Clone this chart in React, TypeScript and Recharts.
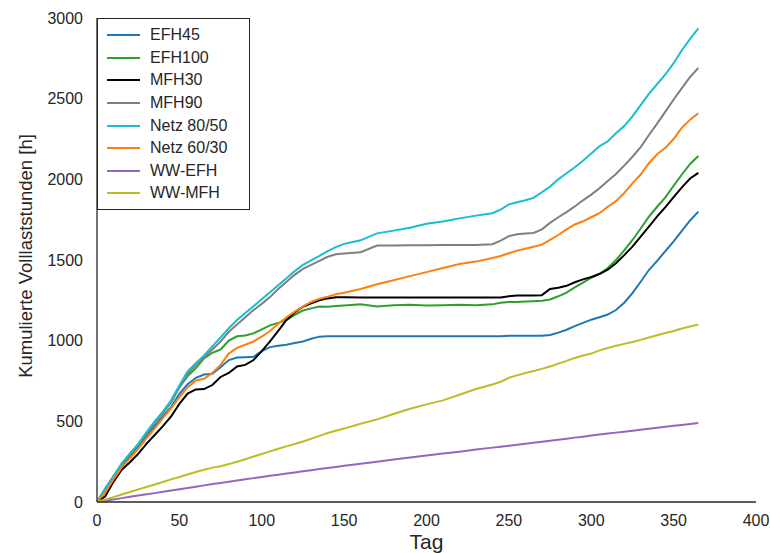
import React from 'react';
import { LineChart, Line, XAxis, YAxis, Label } from 'recharts';

// Tag im Jahr (Stützstellen der Kurven)
const days = [
  0, 5, 10, 15, 20, 25, 30, 35, 40, 45,
  50, 55, 60, 65, 70, 75, 80, 85, 90, 95,
  100, 105, 110, 115, 120, 125, 130, 135, 140, 145,
  150, 160, 170, 180, 190, 200, 210, 220, 230, 240,
  245, 250, 255, 260, 265, 270, 275, 280, 285, 290,
  295, 300, 305, 310, 315, 320, 325, 330, 335, 340,
  345, 350, 355, 360, 365,
];

const efh45 = [
  0, 70, 150, 225, 285, 340, 410, 470, 530, 590,
  670, 730, 770, 790, 795, 835, 880, 895, 897, 900,
  935, 960, 968, 975, 985, 995, 1012, 1025, 1027, 1027,
  1027, 1028, 1027, 1028, 1027, 1027, 1028, 1027, 1027, 1028,
  1028, 1030, 1030, 1030, 1030, 1030, 1035, 1050, 1068, 1090,
  1110, 1130, 1145, 1162, 1190, 1235, 1295, 1365, 1438, 1495,
  1555, 1615, 1680, 1745, 1800,
];

const efh100 = [
  0, 80, 160, 235, 300, 355, 425, 490, 555, 620,
  712, 780, 830, 890, 925, 945, 1000, 1027, 1032, 1045,
  1070, 1095, 1110, 1128, 1160, 1187, 1200, 1212, 1210, 1215,
  1218, 1225, 1212, 1220, 1222, 1218, 1220, 1222, 1220, 1225,
  1235, 1240, 1240, 1242, 1245, 1248, 1255, 1275, 1298, 1330,
  1360, 1390, 1415, 1450, 1500, 1560, 1624, 1695, 1769, 1830,
  1888, 1960, 2030, 2095, 2145,
];

const mfh30 = [
  0, 35, 125, 200, 246, 298, 360, 415, 470, 530,
  608, 672, 698, 700, 725, 775, 800, 840, 850, 880,
  935, 995, 1060, 1128, 1175, 1210, 1232, 1250, 1262, 1269,
  1269, 1268, 1268, 1268, 1268, 1268, 1268, 1268, 1268, 1268,
  1268, 1275, 1280, 1280, 1280, 1282, 1320, 1328, 1340, 1362,
  1380, 1395, 1413, 1440, 1480, 1530, 1583, 1645, 1707, 1770,
  1828, 1890, 1950, 2005, 2040,
];

const mfh90 = [
  0, 80, 155, 235, 295, 355, 425, 490, 550, 620,
  710, 795, 850, 895, 945, 995, 1055, 1100, 1145, 1190,
  1228, 1270, 1320, 1365, 1408, 1445, 1470, 1495, 1520, 1535,
  1540, 1548, 1590, 1590, 1592, 1592, 1593, 1593, 1593, 1598,
  1620, 1648, 1660, 1665, 1668, 1690, 1730, 1765, 1797, 1832,
  1870, 1905, 1945, 1990, 2033, 2085, 2140, 2200, 2275, 2345,
  2420, 2495, 2565, 2635, 2690,
];

const netz8050 = [
  0, 85, 160, 240, 300, 360, 432, 500, 560, 630,
  722, 810, 860, 908, 965, 1020, 1077, 1128, 1171, 1214,
  1257, 1300, 1344, 1387, 1431, 1470, 1497, 1525, 1555, 1580,
  1600, 1622, 1665, 1682, 1700, 1725, 1738, 1758, 1775, 1790,
  1812, 1845, 1858, 1870, 1885, 1920, 1955, 2000, 2038, 2075,
  2115, 2160, 2205, 2235, 2285, 2330, 2390, 2460, 2530, 2590,
  2650, 2720, 2800, 2870, 2935,
];

const netz6030 = [
  0, 60, 140, 215, 270, 330, 395, 455, 520, 580,
  650, 710, 753, 764, 800, 850, 920, 955, 975, 995,
  1025, 1060, 1105, 1145, 1180, 1212, 1240, 1260, 1273, 1288,
  1297, 1320, 1350, 1375, 1400, 1425, 1450, 1475, 1490, 1512,
  1525, 1542, 1558, 1570, 1582, 1595, 1625, 1655, 1690, 1720,
  1740, 1765, 1790, 1830, 1865, 1915, 1975, 2030, 2100, 2155,
  2195, 2250, 2320, 2370, 2410,
];

const wwEfh = [
  0, 8, 16, 24, 32, 40, 48, 55, 63, 71,
  79, 87, 95, 103, 111, 118, 126, 133, 141, 148,
  155, 162, 169, 176, 183, 190, 197, 204, 211, 217,
  224, 237, 250, 263, 276, 288, 300, 312, 325, 337,
  343, 349, 355, 361, 367, 373, 380, 386, 392, 399,
  405, 412, 418, 424, 430, 436, 442, 448, 454, 460,
  466, 472, 478, 484, 490,
];

const wwMfh = [
  0, 15, 30, 46, 62, 78, 93, 108, 124, 140,
  155, 170, 186, 200, 213, 222, 235, 250, 265, 282,
  298, 314, 330, 345, 360, 375, 392, 410, 428, 442,
  455, 485, 512, 545, 578, 605, 630, 665, 700, 728,
  745, 770, 785, 800, 812, 825, 840, 858, 875, 893,
  908, 920, 940, 955, 968, 980, 992, 1005, 1020, 1033,
  1047, 1060, 1075, 1088, 1100,
];

const xTicks = [0, 50, 100, 150, 200, 250, 300, 350, 400];
const xMinorTicks = [0, 25, 50, 75, 100, 125, 150, 175, 200, 225, 250, 275, 300, 325, 350, 375, 400];
const yTicks = [0, 500, 1000, 1500, 2000, 2500, 3000];
const yMinorTicks = [0, 250, 500, 750, 1000, 1250, 1500, 1750, 2000, 2250, 2500, 2750, 3000];

const series = [
  { key: 'EFH45', values: efh45, color: '#1f77b4' },
  { key: 'EFH100', values: efh100, color: '#2ca02c' },
  { key: 'MFH30', values: mfh30, color: '#000000' },
  { key: 'MFH90', values: mfh90, color: '#7f7f7f' },
  { key: 'Netz 80/50', values: netz8050, color: '#17becf' },
  { key: 'Netz 60/30', values: netz6030, color: '#ff7f0e' },
  { key: 'WW-EFH', values: wwEfh, color: '#9467bd' },
  { key: 'WW-MFH', values: wwMfh, color: '#bcbd22' },
];

const data = days.map((day, i) => {
  const row: Record<string, number> = { day };
  series.forEach((s) => {
    row[s.key] = s.values[i];
  });
  return row;
});

const FONT = '"Liberation Sans", Arial, sans-serif';
const FRAME = '#262626';
const TICK = '#8c8c8c';
const noLabel = () => '';

export default function App() {
  return (
    <div style={{ position: 'absolute', left: 0, top: 0, width: 770, height: 553, fontFamily: FONT, background: '#fff' }}>
      <LineChart width={770} height={553} data={data} margin={{ top: 18, right: 14, bottom: 0, left: 0 }}>
        {/* main axes with labels */}
        <XAxis
          xAxisId={0}
          type="number"
          dataKey="day"
          domain={[0, 400]}
          ticks={xTicks}
          tickLine={false}
          tickSize={0}
          tickMargin={13}
          height={51}
          axisLine={{ stroke: FRAME, strokeWidth: 1.3 }}
          tick={{ fontSize: 16, fill: FRAME }}
          allowDataOverflow
        >
          <Label value="Tag" position="insideBottom" offset={4} style={{ fontSize: 21, fill: FRAME }} />
        </XAxis>
        <YAxis
          yAxisId={0}
          type="number"
          domain={[0, 3000]}
          ticks={yTicks}
          tickLine={false}
          tickSize={0}
          tickMargin={14}
          width={97}
          axisLine={{ stroke: FRAME, strokeWidth: 1.3 }}
          tick={{ fontSize: 16, fill: FRAME }}
          allowDataOverflow
        />

        {/* inward minor ticks and the frame */}
        <XAxis xAxisId="bottomTicks" type="number" domain={[0, 400]} ticks={xMinorTicks} mirror tickFormatter={noLabel}
          tickSize={5} tickLine={{ stroke: TICK }} axisLine={false} height={0} allowDataOverflow />
        <XAxis xAxisId="topTicks" orientation="top" type="number" domain={[0, 400]} ticks={xMinorTicks} mirror tickFormatter={noLabel}
          tickSize={5} tickLine={{ stroke: TICK }} axisLine={{ stroke: FRAME, strokeWidth: 1.3 }} height={0} allowDataOverflow />
        <YAxis yAxisId="leftTicks" type="number" domain={[0, 3000]} ticks={yMinorTicks} mirror tickFormatter={noLabel}
          tickSize={5} tickLine={{ stroke: TICK }} axisLine={false} width={0} allowDataOverflow />
        <YAxis yAxisId="rightTicks" orientation="right" type="number" domain={[0, 3000]} ticks={yMinorTicks} mirror tickFormatter={noLabel}
          tickSize={5} tickLine={{ stroke: TICK }} axisLine={{ stroke: FRAME, strokeWidth: 1.3 }} width={0} allowDataOverflow />

        {series.map((s) => (
          <Line
            key={s.key}
            type="linear"
            dataKey={s.key}
            stroke={s.color}
            strokeWidth={2}
            dot={false}
            activeDot={false}
            isAnimationActive={false}
          />
        ))}
      </LineChart>

      {/* y axis title */}
      <div
        style={{
          position: 'absolute',
          left: 26,
          top: 256,
          transform: 'translate(-50%, -50%) rotate(-90deg)',
          whiteSpace: 'nowrap',
          fontSize: 18.5,
          color: FRAME,
        }}
      >
        Kumulierte Volllaststunden [h]
      </div>

      {/* legend box */}
      <div
        style={{
          position: 'absolute',
          left: 97,
          top: 18,
          width: 153,
          height: 192,
          border: `1.3px solid ${FRAME}`,
          background: '#fff',
          paddingTop: 5,
          boxSizing: 'border-box',
        }}
      >
        {series.map((s) => (
          <div key={s.key} style={{ display: 'flex', alignItems: 'center', height: 22.6 }}>
            <span style={{ display: 'inline-block', width: 33, height: 2, marginLeft: 9, background: s.color }} />
            <span style={{ marginLeft: 10, fontSize: 16, color: FRAME, whiteSpace: 'nowrap' }}>{s.key}</span>
          </div>
        ))}
      </div>
    </div>
  );
}
